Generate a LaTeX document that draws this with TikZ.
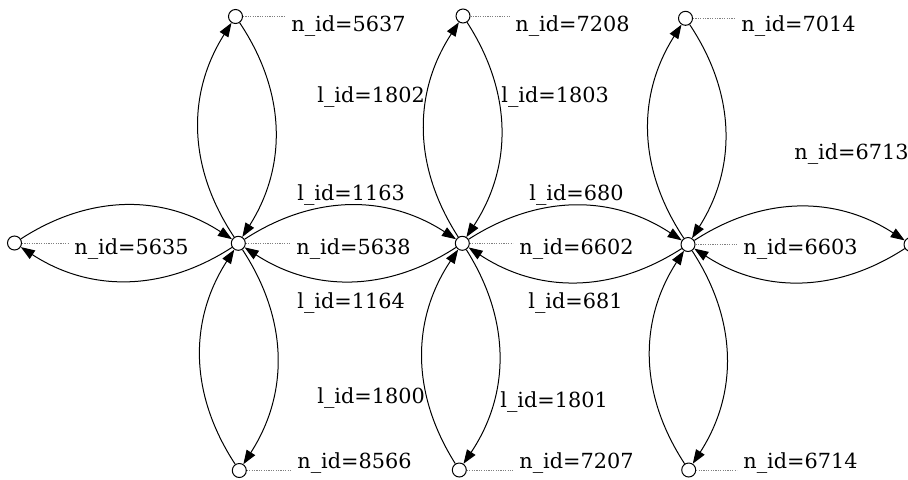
\documentclass[tikz,border=0pt]{standalone}
\usepackage{fontspec}
\setmainfont{DejaVu Serif}
\usetikzlibrary{arrows.meta}
\tikzset{
  vertex/.style={circle, draw, fill=white, minimum size=7pt, inner sep=0pt, line width=0.5pt},
  link/.style={-{Triangle[length=7pt,width=5pt]}, line width=0.5pt, bend left=33},
  idlabel/.style={anchor=base west, inner xsep=3pt, inner ysep=0pt, xshift=-3pt},
  tether/.style={gray, line width=0.4pt, dash pattern=on 0.6pt off 0.6pt}
}
\begin{document}
\begin{tikzpicture}[x=0.5pt, y=0.5pt, font=\fontsize{10.4}{12.5}\selectfont]
    \useasboundingbox (0,0) rectangle (908,479);

    % Vertices
    \node[vertex] (n5635) at (14.5,236) {};
    \node[vertex] (n5638) at (238.3,235.7) {};
    \node[vertex] (n5637) at (235.5,462.5) {};
    \node[vertex] (n8566) at (239.3,8.5) {};
    \node[vertex] (n6602) at (462.3,235.7) {};
    \node[vertex] (n7208) at (463,463) {};
    \node[vertex] (n7207) at (459.3,9) {};
    \node[vertex] (n6603) at (688,234.5) {};
    \node[vertex] (n7014) at (685.5,460.7) {};
    \node[vertex] (n6714) at (688.7,9) {};
    \node[vertex] (n6713) at (911,234.5) {};

    % Vertex ids
    \node[idlabel] (id5635) at (74,225) {n\_id=5635};
    \node[idlabel] (id5638) at (296,225) {n\_id=5638};
    \node[idlabel] (id6602) at (519,225) {n\_id=6602};
    \node[idlabel] (id6603) at (743,225) {n\_id=6603};
    \node[idlabel] (id5637) at (291,447.3) {n\_id=5637};
    \node[idlabel] (id7208) at (515,447.3) {n\_id=7208};
    \node[idlabel] (id7014) at (741,447.3) {n\_id=7014};
    \node[idlabel] (id8566) at (297,11) {n\_id=8566};
    \node[idlabel] (id7207) at (519,11) {n\_id=7207};
    \node[idlabel] (id6714) at (743,11) {n\_id=6714};
    \node[idlabel] (id6713) at (794,320) {n\_id=6713};

    % Dotted tethers to the ids
    \foreach \v in {5635,5638,6602,6603,5637,7208,7014,8566,7207,6714}
        \draw[tether] (n\v.east) -- (n\v.east -| id\v.west);

    % Links, both directions
    \draw[link] (n5635) to (n5638);
    \draw[link] (n5638) to (n5635);
    \draw[link] (n5638) to (n5637);
    \draw[link] (n5637) to (n5638);
    \draw[link] (n8566) to (n5638);
    \draw[link] (n5638) to (n8566);
    \draw[link] (n5638) to (n6602);
    \draw[link] (n6602) to (n5638);
    \draw[link] (n6602) to (n7208);
    \draw[link] (n7208) to (n6602);
    \draw[link] (n7207) to (n6602);
    \draw[link] (n6602) to (n7207);
    \draw[link] (n6602) to (n6603);
    \draw[link] (n6603) to (n6602);
    \draw[link] (n6603) to (n7014);
    \draw[link] (n7014) to (n6603);
    \draw[link] (n6714) to (n6603);
    \draw[link] (n6603) to (n6714);
    \draw[link] (n6603) to (n6713);
    \draw[link] (n6713) to (n6603);

    % Link ids
    \node[idlabel] (l1163) at (297,279) {l\_id=1163};
    \node[idlabel] (l1164) at (297,171) {l\_id=1164};
    \node[idlabel] (l680) at (529,279) {l\_id=680};
    \node[idlabel] (l681) at (528,171) {l\_id=681};
    \node[idlabel] (l1802) at (317,377) {l\_id=1802};
    \node[idlabel] (l1803) at (501,377) {l\_id=1803};
    \node[idlabel] (l1800) at (317,76) {l\_id=1800};
    \node[idlabel] (l1801) at (500,72) {l\_id=1801};
\end{tikzpicture}
\end{document}
